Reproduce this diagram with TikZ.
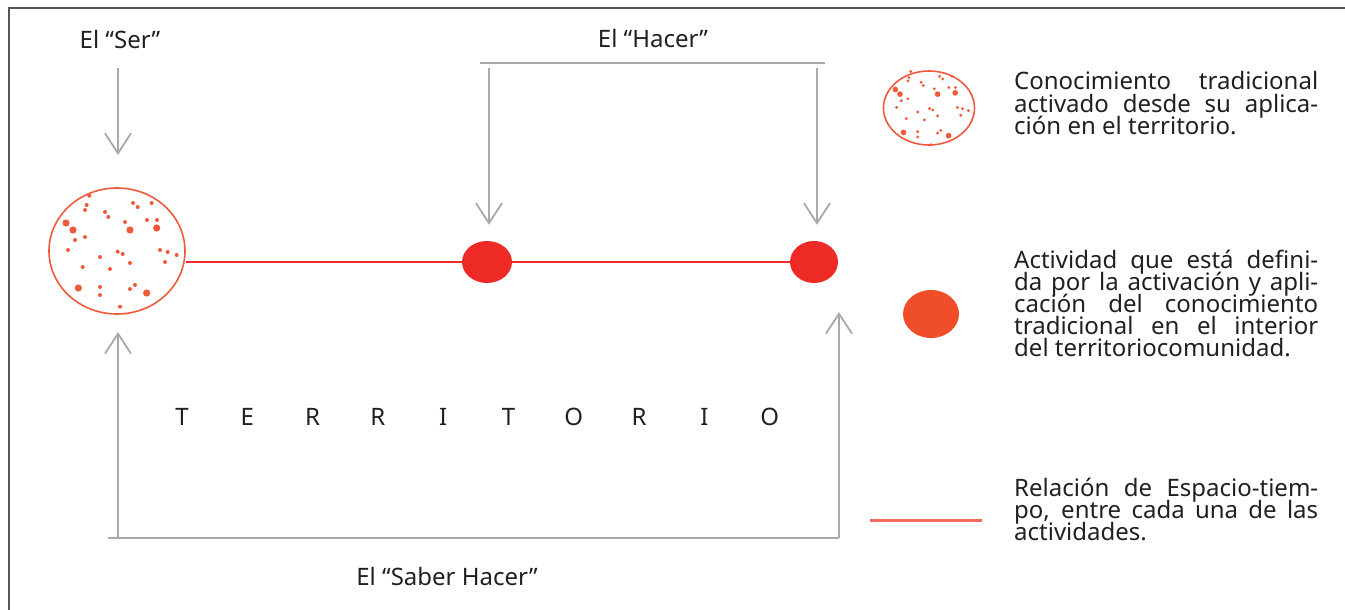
\documentclass[tikz,border=0pt]{standalone}
\usepackage{fontspec}
\setmainfont{Noto Sans}
\usetikzlibrary{arrows.meta,shapes.geometric}
\definecolor{txt}{HTML}{231F20}
\definecolor{garr}{HTML}{A7A9AC}
\definecolor{redl}{HTML}{EE2B2B}
\definecolor{redd}{HTML}{EE2A27}
\definecolor{circ}{HTML}{F05A3C}
\definecolor{orng}{HTML}{F04E2B}
\definecolor{legl}{HTML}{F26B5A}
\definecolor{frm}{HTML}{555555}
\newcommand\mydots[1]{%
  \foreach \dx/\dy in {-27.7/-55.3,-30.3/-46,-32/-41,-12/-39,-8.7/-34,8/-29,16/-48,20.7/-44,30/-31,34.7/-48,40/-31,-42/-11,-32/-14,-49/-1,-17/6,0.7/0.7,5.7/3,13/12,-34.3/16,-7/18,43/-1,50.7/1,48/11,59.7/4,-17/36,-17/44,13/38,18/34,3/55.7}
    {\fill[circ] (\dx,\dy) circle[radius=#1*2pt];}
  \foreach \dx/\dy in {-51/-28,-44/-21,13/-21,39.7/-23,-38.7/37,29.7/42}
    {\fill[circ] (\dx,\dy) circle[radius=#1*3.6pt];}
}
\begin{document}
\begin{tikzpicture}[x=1pt,y=-1pt,
  lbl/.style={font=\fontsize{24}{24}\selectfont, text=txt, inner sep=0pt, text height=17pt, text depth=3.5pt},
  garrow/.style={draw=garr, line width=1.8pt, -{Straight Barb[length=20pt,width=26pt,line width=1.8pt]}},
  gline/.style={draw=garr, line width=1.8pt},
  dotcirc/.style={ellipse, draw=circ, line width=1.6pt, inner sep=0pt},
  actdot/.style={ellipse, fill=redd, inner sep=0pt, minimum width=50pt, minimum height=42pt},
  redline/.style={draw=redl, line width=2.2pt},
  legline/.style={draw=legl, line width=3pt}]
\useasboundingbox (0,0) rectangle (1345,610);
% frame (top and left)
\draw[frm, line width=1.3pt] (9,610) -- (9,8) -- (1345,8);

% labels
\node[lbl, anchor=base] (ser) at (120,49) {El “Ser”};
\node[lbl, anchor=base] (hacer) at (653,48) {El “Hacer”};
\node[lbl, anchor=base] (saber) at (447,585) {El “Saber Hacer”};

% main circle and activities
\node[dotcirc, minimum width=136pt, minimum height=126pt] (big) at (117,251) {};
\begin{scope}[shift={(117,251)}]\mydots{1}\end{scope}
\node[actdot] (act1) at (487,262) {};
\node[actdot, minimum width=48pt] (act2) at (814,262) {};
\draw[redline] (act1.west -| big.east) -- (act1.west);
\draw[redline] (act1.east) -- (act2.west);

% Ser arrow
\coordinate (s0) at (118,68);
\draw[garrow] (s0) -- (118,155) coordinate (s1);

% Hacer bracket
\coordinate (hl) at (480,63);
\coordinate (hr) at (825,63);
\draw[gline] (hl) -- (hr);
\coordinate (h1) at (489,68);
\coordinate (h2) at (817,68);
\draw[garrow, shorten >=16pt] (h1) -- (h1 |- act1.north);
\draw[garrow, shorten >=16pt] (h2) -- (h2 |- act2.north);

% Saber Hacer bracket
\coordinate (bl) at (108,538);
\coordinate (br) at (839,538);
\coordinate (u1) at (118,538);
\coordinate (u2) at (839,538);
\draw[gline] (bl) -- (br);
\draw[garrow] (u1) -- (118,332) coordinate (u1t);
\draw[garrow] (u2) -- (839,312) coordinate (u2t);

% TERRITORIO
\foreach \c [count=\i from 0] in {T,E,R,R,I,T,O,R,I,O}
  \node[lbl, anchor=base] (t\i) at (182+65.3*\i,425) {\c};

% legend symbols
\node[dotcirc, minimum width=91pt, minimum height=74pt] (legc) at (929,108) {};
\begin{scope}[shift={(929,108)}, scale=0.66]\mydots{1.2}\end{scope}
\node[ellipse, fill=orng, inner sep=0pt, minimum width=56pt, minimum height=48pt] (lego) at (931,314) {};
\coordinate (ll1) at (870,520);
\coordinate (ll2) at (982,520);
\draw[legline] (ll1) -- (ll2);

% legend texts
\node[lbl, anchor=base west] (a1) at (1014,90) {\makebox[304pt][s]{Conocimiento tradicional}};
\node[lbl, anchor=base west] (a2) at (1014,112) {\makebox[304pt][s]{activado desde su aplica-}};
\node[lbl, anchor=base west] (a3) at (1014,134) {ción en el territorio.};

\node[lbl, anchor=base west] (b1) at (1014,268) {\makebox[304pt][s]{Actividad que está defini-}};
\node[lbl, anchor=base west] (b2) at (1014,290) {\makebox[304pt][s]{da por la activación y apli-}};
\node[lbl, anchor=base west] (b3) at (1014,312) {\makebox[304pt][s]{cación del conocimiento}};
\node[lbl, anchor=base west] (b4) at (1014,334) {\makebox[304pt][s]{tradicional en el interior}};
\node[lbl, anchor=base west] (b5) at (1014,356) {del territoriocomunidad.};

\node[lbl, anchor=base west] (c1) at (1014,496) {\makebox[304pt][s]{Relación de Espacio-tiem-}};
\node[lbl, anchor=base west] (c2) at (1014,518) {\makebox[304pt][s]{po, entre cada una de las}};
\node[lbl, anchor=base west] (c3) at (1014,540) {actividades.};
\end{tikzpicture}
\end{document}
